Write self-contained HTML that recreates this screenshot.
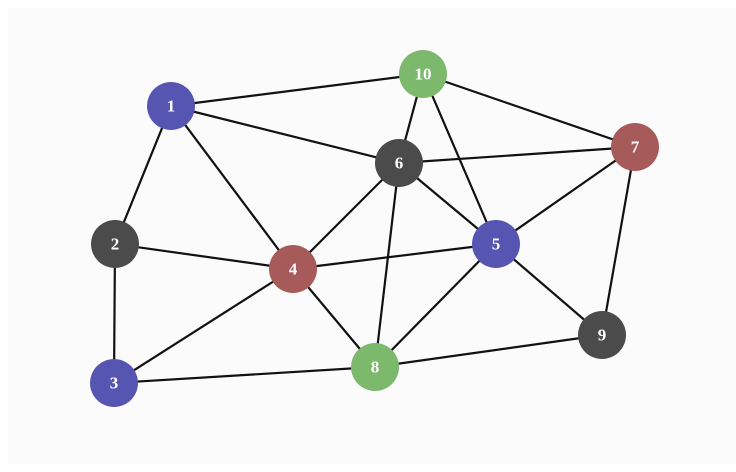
<!DOCTYPE html>
<html><head><style>
html,body{margin:0;padding:0;background:#fff;}
svg{display:block;}
text{font-family:"Liberation Serif",serif;font-weight:bold;font-size:17px;fill:#fff;text-anchor:middle;dominant-baseline:central;}
</style></head><body>
<svg width="736" height="472" viewBox="0 0 736 472">
<rect x="8" y="8" width="728" height="456" fill="#fbfbfc"/>
<g stroke="#111" stroke-width="2.2">
<line x1="171" y1="106" x2="423" y2="74"/>
<line x1="171" y1="106" x2="399" y2="163"/>
<line x1="171" y1="106" x2="115" y2="244"/>
<line x1="171" y1="106" x2="293" y2="269"/>
<line x1="423" y1="74" x2="399" y2="163"/>
<line x1="423" y1="74" x2="496" y2="244"/>
<line x1="423" y1="74" x2="635" y2="147"/>
<line x1="399" y1="163" x2="635" y2="147"/>
<line x1="399" y1="163" x2="293" y2="269"/>
<line x1="399" y1="163" x2="496" y2="244"/>
<line x1="399" y1="163" x2="375" y2="367"/>
<line x1="635" y1="147" x2="496" y2="244"/>
<line x1="635" y1="147" x2="602" y2="335"/>
<line x1="115" y1="244" x2="293" y2="269"/>
<line x1="115" y1="244" x2="114" y2="383"/>
<line x1="293" y1="269" x2="496" y2="244"/>
<line x1="293" y1="269" x2="114" y2="383"/>
<line x1="293" y1="269" x2="375" y2="367"/>
<line x1="496" y1="244" x2="375" y2="367"/>
<line x1="496" y1="244" x2="602" y2="335"/>
<line x1="114" y1="383" x2="375" y2="367"/>
<line x1="375" y1="367" x2="602" y2="335"/>
</g>
<g>
<circle cx="171" cy="106" r="24" fill="#5656b2"/><text x="171" y="106">1</text>
<circle cx="423" cy="74" r="24" fill="#7cb96c"/><text x="423" y="74">10</text>
<circle cx="399" cy="163" r="24" fill="#4b4b4b"/><text x="399" y="163">6</text>
<circle cx="635" cy="147" r="24" fill="#a65a5a"/><text x="635" y="147">7</text>
<circle cx="115" cy="244" r="24" fill="#4b4b4b"/><text x="115" y="244">2</text>
<circle cx="293" cy="269" r="24" fill="#a65a5a"/><text x="293" y="269">4</text>
<circle cx="496" cy="244" r="24" fill="#5656b2"/><text x="496" y="244">5</text>
<circle cx="602" cy="335" r="24" fill="#4b4b4b"/><text x="602" y="335">9</text>
<circle cx="114" cy="383" r="24" fill="#5656b2"/><text x="114" y="383">3</text>
<circle cx="375" cy="367" r="24" fill="#7cb96c"/><text x="375" y="367">8</text>
</g>
</svg>
</body></html>
